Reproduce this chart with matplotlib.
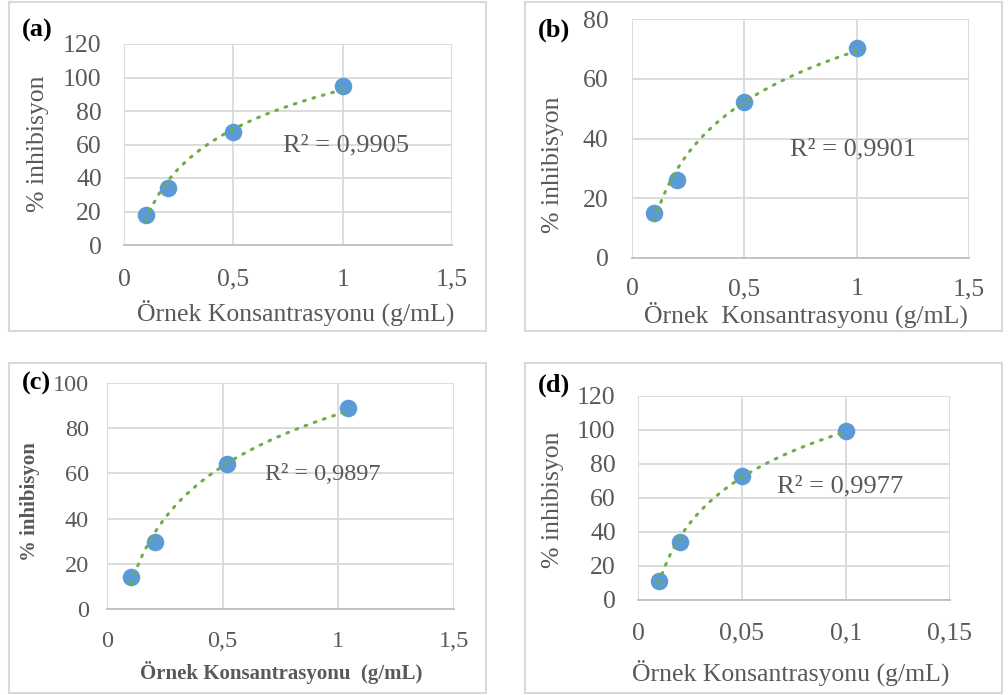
import numpy as np
import matplotlib
matplotlib.use("Agg")
import matplotlib.pyplot as plt
from matplotlib.patches import Rectangle

# ---------------- data ----------------
x_a = [0.1, 0.2, 0.5, 1.0]
y_a = [17.8, 34.3, 67.3, 95.1]
x_b = [0.1, 0.2, 0.5, 1.0]
y_b = [15.0, 26.0, 52.2, 70.4]
x_c = [0.104, 0.208, 0.52, 1.04]
y_c = [14.3, 29.5, 64.2, 89.1]
x_d = [0.01, 0.02, 0.05, 0.1]
y_d = [11.4, 33.9, 72.9, 99.4]

r2_labels = ["R² = 0,9905", "R² = 0,9901", "R² = 0,9897", "R² = 0,9977"]
panel_labels = ["(a)", "(b)", "(c)", "(d)"]
xlabels = ["Örnek Konsantrasyonu (g/mL)", "Örnek  Konsantrasyonu (g/mL)",
           "Örnek Konsantrasyonu  (g/mL)", "Örnek Konsantrasyonu (g/mL)"]
ylabel = "% inhibisyon"

xticks_ab = [0, 0.5, 1, 1.5]
xticklabels_ab = ["0", "0,5", "1", "1,5"]
xticks_d = [0, 0.05, 0.1, 0.15]
xticklabels_d = ["0", "0,05", "0,1", "0,15"]
yticks_a = [0, 20, 40, 60, 80, 100, 120]
yticks_b = [0, 20, 40, 60, 80]
yticks_c = [0, 20, 40, 60, 80, 100]
yticks_d = [0, 20, 40, 60, 80, 100, 120]

# ---------------- style ----------------
W, H = 1008, 695
FONT = "Liberation Serif"
TXT = "#595959"
BLUE = "#5B9BD5"
GREEN = "#70AD47"
GRID = "#D9D9D9"

fig = plt.figure(figsize=(W / 100, H / 100), dpi=100)
fig.patch.set_facecolor("white")


def fx(px):
    return px / W


def fy(py):
    return 1 - py / H


def border(x0, y0, x1, y1):
    fig.patches.append(Rectangle((fx(x0), fy(y1)), fx(x1) - fx(x0), fy(y0) - fy(y1),
                                 transform=fig.transFigure, fill=False,
                                 edgecolor=GRID, linewidth=1.5))


panels = [
    dict(x=x_a, y=y_a, box=(124, 44, 452, 245), border=(9, 2, 486, 331),
         xt=xticks_ab, xtl=xticklabels_ab, yt=yticks_a, r2pos=(0.727, 59.4),
         letter=(22, 30), ylab=(38, 144), xlab=(296, 313), fs=18.5,
         bold=False, tfs=18.5, xpad=17, ypad=16, r2fs=19),
    dict(x=x_b, y=y_b, box=(632, 19, 969, 258), border=(525, 2, 1002, 331),
         xt=xticks_ab, xtl=xticklabels_ab, yt=yticks_b, r2pos=(0.703, 36.2),
         letter=(538, 30), ylab=(553, 165), xlab=(806, 315), fs=18.5,
         bold=False, tfs=18.5, xpad=14.5, ypad=17, r2fs=19),
    dict(x=x_c, y=y_c, box=(107, 383, 454, 609), border=(9, 363, 486, 693),
         xt=xticks_ab, xtl=xticklabels_ab, yt=yticks_c, r2pos=(0.683, 59.7),
         letter=(22, 383), ylab=(30, 502), xlab=(281, 672), fs=15,
         bold=True, tfs=17.5, xpad=16, ypad=13, r2fs=17.5),
    dict(x=x_d, y=y_d, box=(638, 396, 950, 600), border=(525, 363, 1002, 693),
         xt=xticks_d, xtl=xticklabels_d, yt=yticks_d, r2pos=(0.0668, 67.0),
         letter=(538, 385), ylab=(553, 500), xlab=(791, 673), fs=18.5,
         bold=False, tfs=18.5, xpad=16.5, ypad=16, r2fs=19),
]

for i, p in enumerate(panels):
    border(*p["border"])
    l, t, r, b = p["box"]
    ax = fig.add_axes([fx(l), fy(b), fx(r) - fx(l), fy(t) - fy(b)])
    ax.set_facecolor("white")
    xs = np.array(p["x"])
    ys = np.array(p["y"])
    ax.scatter(xs, ys, s=160, color=BLUE, zorder=3, linewidths=0)
    a, c = np.polyfit(np.log(xs), ys, 1)
    xx = np.linspace(xs.min(), xs.max(), 200)
    ax.plot(xx, a * np.log(xx) + c, color=GREEN, lw=2.2, ls=(0, (0.6, 2.6)),
            dash_capstyle="round", zorder=4)
    ax.set_xlim(p["xt"][0], p["xt"][-1])
    ax.set_ylim(p["yt"][0], p["yt"][-1])
    ax.set_xticks(p["xt"])
    ax.set_xticklabels(p["xtl"])
    ax.set_yticks(p["yt"])
    ax.tick_params(length=0, labelsize=p["tfs"], labelcolor=TXT)
    ax.tick_params(axis="x", pad=p["xpad"])
    ax.tick_params(axis="y", pad=p["ypad"])
    for lab in ax.get_xticklabels() + ax.get_yticklabels():
        lab.set_fontfamily(FONT)
    ax.grid(True, color=GRID, lw=1.3)
    ax.set_axisbelow(True)
    for s in ["top", "right", "left"]:
        ax.spines[s].set_visible(False)
    ax.spines["bottom"].set_color("#BFBFBF")
    ax.spines["bottom"].set_linewidth(1.3)
    # R² text
    ax.text(p["r2pos"][0], p["r2pos"][1], r2_labels[i], fontsize=p["r2fs"],
            family=FONT, color=TXT, ha="left", va="center", zorder=5)
    weight = "bold" if p["bold"] else "normal"
    ax.set_xlabel(xlabels[i], fontsize=p["fs"], family=FONT, color=TXT,
                  fontweight=weight, va="center", ha="center")
    ax.xaxis.set_label_coords(fx(p["xlab"][0]), fy(p["xlab"][1]), transform=fig.transFigure)
    ax.set_ylabel(ylabel, fontsize=p["fs"], family=FONT, color=TXT,
                  fontweight=weight, va="center", ha="center")
    ax.yaxis.set_label_coords(fx(p["ylab"][0]), fy(p["ylab"][1]), transform=fig.transFigure)
    fig.text(fx(p["letter"][0]), fy(p["letter"][1]), panel_labels[i], fontsize=19,
             family=FONT, fontweight="bold", color="black", ha="left", va="center")

fig.savefig("out.png", dpi=100, facecolor="white")
